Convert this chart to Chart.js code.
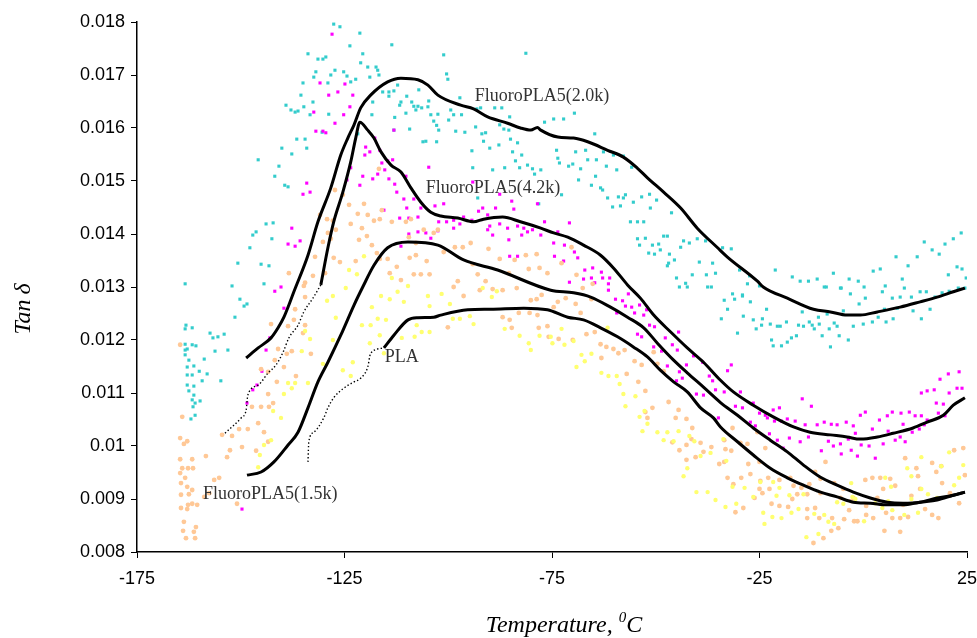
<!DOCTYPE html>
<html>
<head>
<meta charset="utf-8">
<script src="https://cdn.jsdelivr.net/npm/chart.js@4.4.1/dist/chart.umd.min.js"></script>
<style>
  html, body { margin: 0; padding: 0; background: #fff; }
  canvas { display: block; }
</style>
</head>
<body>
<canvas id="tanChart" width="977" height="638"></canvas>
<script>
// ======================================================
// DATA — tan delta vs temperature (°C)
// ======================================================
const xTicks = [-175, -125, -75, -25, 25];
const yRange = [0.008, 0.018];

// smoothed curves (solid black)
const temps20 = [-148.7,-145.8,-142.7,-141.0,-139.6,-138.4,-137.2,-133.8,-131.4,-128.3,-125.9,-124.2,-122.7,-121.1,-118.7,-114.6,-111.4,-107.3,-104.9,-102.5,-97.0,-93.9,-90.5,-85.7,-82.6,-80.1,-78.5,-77.7,-73.6,-69.8,-66.4,-61.6,-57.8,-54.4,-52.0,-48.1,-44.0,-40.0,-35.1,-32.8,-25.5,-24.1,-18.3,-12.0,-7.9,-3.9,-0.7,3.4,8.9,13.7,17.8,21.7,24.5];
const tan20   = [0.01166,0.01185,0.01204,0.01223,0.01243,0.01266,0.01291,0.01360,0.01423,0.01487,0.01549,0.01581,0.01606,0.01638,0.01662,0.01687,0.01694,0.01691,0.01681,0.01662,0.01643,0.01636,0.01621,0.01609,0.01600,0.01596,0.01601,0.01596,0.01583,0.01581,0.01574,0.01558,0.01545,0.01524,0.01506,0.01479,0.01449,0.01411,0.01374,0.01357,0.01311,0.01300,0.01279,0.01258,0.01253,0.01247,0.01247,0.01253,0.01262,0.01272,0.01281,0.01291,0.01298];

const temps42 = [-130.7,-129.0,-127.6,-125.4,-123.5,-122.3,-121.3,-119.4,-117.9,-116.2,-113.8,-111.4,-109.0,-106.6,-104.2,-101.8,-97.7,-93.9,-91.5,-86.9,-82.6,-77.7,-74.6,-71.2,-67.4,-63.3,-60.2,-56.8,-53.7,-50.5,-46.4,-42.4,-38.5,-34.4,-31.3,-26.5,-21.7,-16.8,-12.8,-7.9,-3.9,-0.7,3.4,7.2,12.0,15.4,19.3,21.7,24.5];
const tan42   = [0.01304,0.01374,0.01423,0.01479,0.01536,0.01581,0.01611,0.01596,0.01581,0.01555,0.01530,0.01517,0.01487,0.01460,0.01441,0.01434,0.01430,0.01423,0.01428,0.01432,0.01423,0.01411,0.01402,0.01394,0.01379,0.01360,0.01336,0.01304,0.01279,0.01247,0.01215,0.01185,0.01158,0.01124,0.01102,0.01077,0.01055,0.01036,0.01026,0.01021,0.01017,0.01013,0.01017,0.01024,0.01034,0.01045,0.01058,0.01077,0.01091];

const temps15 = [-148.5,-145.1,-142.0,-138.6,-136.2,-133.8,-131.4,-129.0,-125.9,-122.7,-120.6,-117.9,-114.6,-109.7,-102.5,-96.3,-88.1,-75.3,-69.8,-65.7,-60.9,-56.8,-52.9,-49.6,-45.7,-42.4,-38.5,-34.4,-30.3,-26.5,-22.4,-18.3,-14.4,-10.3,-6.3,-2.4,1.7,5.8,9.6,13.7,17.8,21.7,24.5];
const tan15   = [0.00945,0.00951,0.00970,0.01002,0.01026,0.01072,0.01121,0.01158,0.01209,0.01266,0.01300,0.01341,0.01374,0.01385,0.01379,0.01351,0.01332,0.01294,0.01289,0.01281,0.01262,0.01243,0.01223,0.01194,0.01162,0.01138,0.01111,0.01082,0.01058,0.01034,0.01011,0.00989,0.00964,0.00941,0.00926,0.00913,0.00902,0.00894,0.00892,0.00894,0.00902,0.00907,0.00913];

const tempsPLA = [-115.5,-113.1,-109.7,-107.3,-103.5,-101.8,-95.3,-89.8,-81.8,-76.1,-71.2,-67.4,-63.3,-59.2,-55.4,-52.0,-48.9,-45.7,-42.4,-39.2,-36.1,-34.4,-30.3,-26.5,-22.4,-18.3,-14.4,-10.3,-6.3,-2.4,1.7,5.8,9.6,13.7,17.8,21.7,24.5];
const tanPLA   = [0.01185,0.01209,0.01238,0.01242,0.01243,0.01247,0.01257,0.01258,0.01260,0.01257,0.01243,0.01238,0.01223,0.01206,0.01187,0.01168,0.01143,0.01121,0.01102,0.01072,0.01053,0.01036,0.01008,0.00983,0.00958,0.00940,0.00926,0.00913,0.00904,0.00894,0.00892,0.00889,0.00889,0.00894,0.00898,0.00907,0.00913];

// dotted extensions
const tempsDot42 = [-153.8,-149.9,-148.7,-148.3,-145.8,-143.4,-141.5,-139.8,-138.4,-136.2,-134.8,-132.6,-130.7];
const tanDot42   = [0.01024,0.01053,0.01068,0.01096,0.01115,0.01138,0.01153,0.01177,0.01204,0.01228,0.01253,0.01279,0.01304];
const tempsDotPLA = [-133.8,-133.6,-132.4,-130.0,-129.0,-127.6,-125.2,-122.7,-121.1,-119.4,-118.7,-115.5];
const tanDotPLA   = [0.00970,0.01008,0.01026,0.01053,0.01072,0.01091,0.01109,0.01121,0.01128,0.01149,0.01175,0.01185];

// raw measured points [temperature, tan delta]
const cyanDots = [
  [-127.6,.01796],[-126.1,.01791],[-121.3,.01779],[-113.6,.01757],[-123.7,.01755],[-133.8,.01740],[-120.6,.01740],[-131.4,.01730],[-130.2,.01730],[-129.5,.01734],
  [-121.1,.01723],[-119.4,.01715],[-117.4,.01715],[-117.0,.01709],[-131.9,.01706],[-127.3,.01709],[-125.2,.01706],[-128.3,.01700],[-124.4,.01698],[-122.3,.01692],
  [-118.9,.01696],[-132.4,.01696],[-135.0,.01685],[-129.0,.01685],[-123.5,.01687],[-116.7,.01700],[-135.5,.01662],[-132.6,.01649],[-139.1,.01643],[-137.9,.01634],
  [-136.9,.01630],[-136.2,.01632],[-134.8,.01640],[-133.3,.01625],[-128.8,.01626],[-130.4,.01592],[-136.5,.01579],[-134.5,.01579],[-134.1,.01562],[-140.1,.01562],
  [-137.7,.01551],[-145.8,.01540],[-140.8,.01528],[-141.8,.01509],[-139.4,.01492],[-138.6,.01489],[-143.9,.01419],[-142.2,.01421],[-146.3,.01404],[-147.1,.01398],
  [-142.5,.01391],[-147.8,.01374],[-150.7,.01345],[-145.1,.01343],[-143.2,.01340],[-163.4,.01306],[-144.4,.01306],
  [-115.8,.01668],[-114.3,.01668],[-113.1,.01670],[-114.3,.01660],[-112.2,.01681],[-118.2,.01649],[-111.4,.01649],[-110.0,.01660],[-108.8,.01649],[-108.3,.01641],
  [-107.3,.01641],[-106.4,.01638],[-104.9,.01640],[-104.7,.01651],[-107.1,.01672],[-111.7,.01643],[-110.2,.01628],[-107.8,.01634],[-118.4,.01625],[-112.9,.01620],
  [-104.2,.01625],[-102.5,.01626],[-103.5,.01613],[-102.8,.01605],[-102.3,.01596],[-109.3,.01598],[-113.1,.01596],[-106.1,.01574],[-105.4,.01575],[-102.8,.01574],[-121.8,.01589],
  [-101.1,.01738],[-81.3,.01741],[-100.4,.01702],[-100.1,.01692],[-97.2,.01657],[-99.4,.01634],[-98.7,.01625],[-96.8,.01625],[-99.9,.01615],[-93.1,.01636],
  [-92.2,.01638],[-88.8,.01638],[-87.1,.01638],[-98.2,.01594],[-96.0,.01592],[-93.4,.01602],[-91.9,.01589],[-91.0,.01591],[-87.6,.01606],[-86.6,.01598],
  [-85.4,.01596],[-85.2,.01621],[-76.8,.01611],[-74.6,.01617],[-72.2,.01617],[-69.6,.01628],[-91.5,.01575],[-87.8,.01568],[-90.0,.01562],[-94.3,.01557],
  [-85.0,.01579],[-83.3,.01572],[-84.5,.01555],[-82.3,.01549],[-83.8,.01538],[-73.9,.01558],[-73.6,.01543],[-73.2,.01534],[-71.0,.01528],[-70.0,.01532],
  [-69.3,.01555],[-68.1,.01523],[-66.9,.01558],[-66.4,.01540],[-64.7,.01589],[-64.3,.01540],[-62.6,.01555],[-61.9,.01528],[-60.2,.01549],[-59.4,.01521],
  [-57.8,.01547],[-55.8,.01526],[-94.1,.01525],[-89.3,.01521],[-86.4,.01525],[-82.8,.01525],[-80.9,.01530],[-79.7,.01523],[-79.2,.01513],[-77.7,.01521],
  [-68.6,.01502],[-65.5,.01492],[-64.5,.01509],[-63.3,.01487],[-62.8,.01483],[-61.6,.01468],[-60.4,.01451],[-59.0,.01470],[-58.5,.01453],[-57.8,.01468],
  [-57.3,.01474],[-55.4,.01460],[-53.4,.01470],[-51.5,.01475],[-51.3,.01449],[-49.8,.01464],[-46.2,.01440],[-56.1,.01423],[-54.4,.01423],[-52.9,.01423],
  [-54.4,.01391],[-52.5,.01392],[-53.9,.01379],[-51.7,.01364],[-50.8,.01379],[-49.3,.01381],[-50.3,.01362],[-48.9,.01370],[-48.1,.01396],[-47.2,.01396],
  [-46.7,.01362],[-44.0,.01375],[-43.3,.01387],[-41.9,.01383],[-40.0,.01391],[-38.0,.01387],[-47.2,.01340],[-45.0,.01317],[-39.5,.01347],[-37.8,.01323],
  [-42.8,.01307],[-72.7,.01474],[-92.9,.01468],[-78.2,.01457],
  [-45.5,.01351],[-46.9,.01345],[-36.3,.01345],[-35.6,.01326],[-33.9,.01374],[-31.8,.01372],[-29.8,.01332],[-27.4,.01321],[-27.9,.01306],[-25.0,.01302],
  [-21.2,.01332],[-17.1,.01319],[-15.2,.01311],[-13.2,.01311],[-11.1,.01315],[-9.4,.01300],[-7.2,.01326],[-5.3,.01298],[-3.4,.01315],[-1.2,.01311],
  [2.4,.01330],[4.1,.01334],[7.9,.01357],[9.4,.01315],[10.8,.01340],[13.0,.01357],[14.7,.01385],[16.6,.01370],[18.3,.01362],[19.7,.01381],
  [21.7,.01391],[23.6,.01402],[22.6,.01338],[23.8,.01334],[24.8,.01317],[20.5,.01323],[-44.3,.01300],[-42.4,.01300],[-41.2,.01323],[-37.5,.01300],
  [-36.6,.01300],[-31.5,.01287],[-29.1,.01285],
  [-33.5,.01275],[-32.7,.01258],[-34.2,.01240],[-31.0,.01277],[-29.1,.01283],[-27.2,.01272],[-28.9,.01245],[-26.5,.01238],[-24.3,.01240],[-25.8,.01221],
  [-30.3,.01213],[-24.5,.01228],[-23.3,.01258],[-22.4,.01230],[-20.7,.01226],[-20.0,.01226],[-22.1,.01200],[-21.7,.01189],[-19.7,.01189],[-18.5,.01234],
  [-18.3,.01196],[-17.3,.01204],[-16.1,.01208],[-15.6,.01228],[-14.4,.01226],[-13.0,.01234],[-12.3,.01228],[-11.8,.01221],[-10.6,.01230],[-9.9,.01208],
  [-8.2,.01221],[-7.9,.01187],[-7.0,.01232],[-6.3,.01226],[-5.8,.01208],[-4.8,.01255],[-3.6,.01200],[-2.4,.01226],[0.0,.01230],[2.2,.01234],
  [3.6,.01243],[5.1,.01258],[5.5,.01234],[7.2,.01240],[8.2,.01260],[12.0,.01255],[14.0,.01240],[16.1,.01258],[-14.7,.01253],[-10.8,.01243],
  [-8.7,.01249],[-1.0,.01268],[0.5,.01279],[4.6,.01291],[5.3,.01302],[7.0,.01279],[8.9,.01281],[9.9,.01298],[11.6,.01281],[13.7,.01291],
  [15.2,.01291],[17.3,.01281],[19.0,.01289],[20.7,.01292],[22.9,.01298],[24.5,.01298],[-8.9,.01300],[-5.5,.01298],[-3.1,.01287],[0.2,.01300],
  [-163.2,.01228],[-161.7,.01223],[-163.4,.01221],[-157.4,.01213],[-156.7,.01204],[-155.5,.01206],[-154.0,.01211],[-163.4,.01192],[-162.9,.01183],[-161.7,.01191],
  [-160.8,.01189],[-163.4,.01181],[-163.4,.01172],[-162.5,.01162],[-162.9,.01149],[-161.3,.01151],[-160.0,.01141],[-158.8,.01164],[-156.2,.01179],[-153.1,.01181],
  [-162.9,.01134],[-161.7,.01134],[-159.3,.01123],[-158.1,.01136],[-154.8,.01123],[-162.9,.01115],[-161.3,.01113],[-162.5,.01104],[-161.3,.01096],[-161.7,.01087],
  [-161.0,.01081],[-159.8,.01085],[-161.5,.01074],[-161.0,.01058],[-162.0,.01051],[-152.1,.01302],[-150.2,.01277],[-149.2,.01264],[-148.5,.01268],[-151.4,.01243]
];

const magentaDots = [
  [-128.0,.01777],[-130.9,.01685],[-124.9,.01683],[-128.8,.01662],[-126.6,.01668],[-123.0,.01662],[-123.7,.01640],[-125.2,.01625],[-132.4,.01630],[-127.3,.01609],
  [-131.9,.01594],[-130.2,.01594],[-129.5,.01591],[-113.1,.01596],[-119.9,.01564],[-120.1,.01549],[-118.9,.01555],[-117.7,.01581],[-116.5,.01558],[-116.0,.01534],
  [-114.6,.01538],[-113.4,.01540],[-115.3,.01521],[-117.0,.01513],[-118.2,.01504],[-120.6,.01509],[-123.5,.01525],[-124.4,.01502],[-121.3,.01492],[-114.3,.01504],
  [-112.9,.01494],[-112.4,.01479],[-110.2,.01509],[-110.7,.01466],[-108.3,.01466],[-110.0,.01449],[-115.5,.01445],[-111.7,.01430],[-109.5,.01430],[-107.3,.01432],
  [-106.6,.01449],[-104.7,.01526],[-103.2,.01453],[-102.3,.01423],[-109.5,.01400],[-107.3,.01404],[-105.4,.01402],[-104.2,.01392],[-102.5,.01406],[-134.1,.01496],
  [-133.3,.01479],[-135.0,.01475],[-137.7,.01411],[-138.6,.01381],[-136.9,.01377],[-135.7,.01387],[-111.4,.01377],[-141.8,.01292],[-140.3,.01300],[-139.6,.01260],
  [-143.0,.01204],[-143.9,.01181],[-144.9,.01141],[-146.1,.01115],[-147.1,.01106],[-148.5,.01081],[-149.7,.00881],
  [-101.1,.01457],[-94.1,.01498],[-87.6,.01475],[-84.7,.01462],[-78.5,.01457],[-91.7,.01449],[-88.6,.01449],[-84.2,.01447],[-92.7,.01443],[-90.5,.01436],
  [-98.7,.01426],[-96.3,.01432],[-100.4,.01423],[-98.7,.01411],[-97.2,.01419],[-94.3,.01426],[-90.0,.01415],[-87.6,.01419],[-90.5,.01408],[-89.3,.01398],
  [-85.7,.01411],[-83.3,.01415],[-81.8,.01411],[-80.9,.01404],[-79.7,.01408],[-76.8,.01423],[-70.8,.01421],[-77.7,.01398],[-73.6,.01404],[-82.3,.01398],
  [-85.4,.01389],[-74.6,.01383],[-72.0,.01379],[-83.3,.01358],[-85.2,.01358],[-74.4,.01358],[-69.6,.01366],[-68.8,.01355],[-72.2,.01349],[-67.1,.01332],
  [-65.2,.01336],[-63.1,.01328],[-62.8,.01317],[-65.5,.01317],[-67.4,.01315],[-61.1,.01317],[-61.4,.01306],[-64.7,.01308],[-70.8,.01309],
  [-61.4,.01294],[-59.7,.01277],[-58.0,.01274],[-56.6,.01287],[-57.3,.01264],[-55.8,.01262],[-55.1,.01251],[-53.9,.01266],[-52.9,.01247],[-52.2,.01257],
  [-59.4,.01251],[-51.5,.01228],[-50.3,.01225],[-54.4,.01211],[-53.4,.01206],[-47.7,.01204],[-50.5,.01187],[-48.6,.01179],[-46.0,.01191],[-44.5,.01215],
  [-44.8,.01181],[-47.2,.01151],[-42.6,.01153],[-40.9,.01170],[-38.7,.01158],[-37.1,.01132],[-36.3,.01123],[-44.3,.01140],[-43.6,.01128],[-45.0,.01123],
  [-40.2,.01098],[-38.5,.01096],[-35.6,.01106],[-34.9,.01053],
  [-31.8,.01153],[-32.7,.01142],[-33.5,.01102],[-29.6,.01102],[-30.8,.01075],[-29.1,.01072],[-26.5,.01081],[-25.0,.01062],[-23.6,.01058],[-21.7,.01068],
  [-20.2,.01072],[-27.2,.01045],[-26.0,.01038],[-23.1,.01053],[-21.4,.01047],[-19.7,.01047],[-18.3,.01051],[-16.4,.01047],[-14.7,.01089],[-12.5,.01075],
  [-14.0,.01040],[-11.1,.01040],[-9.4,.01045],[-7.7,.01041],[-6.3,.01040],[-4.1,.01045],[-2.4,.01038],[-0.7,.01058],[0.5,.01064],[2.2,.01032],
  [3.9,.01049],[5.8,.01057],[7.0,.01064],[9.1,.01062],[9.6,.01041],[11.1,.01064],[12.5,.01057],[14.0,.01057],[15.4,.01049],[18.1,.01062],
  [14.0,.01100],[15.4,.01104],[17.1,.01106],[17.6,.01081],[19.3,.01079],[18.5,.01126],[20.5,.01136],[23.1,.01140],[20.7,.01100],[22.6,.01109],
  [23.8,.01109],[19.7,.01057],[-22.6,.01023],[-20.7,.01011],[-19.3,.00996],[-17.8,.01015],[-15.2,.01008],[-13.2,.01017],[-10.1,.00991],[-8.4,.01009],
  [-7.2,.01000],[-5.5,.01004],[-5.3,.00985],[-3.6,.01013],[-2.9,.00992],[-1.9,.01024],[-1.4,.00981],[-0.5,.01002],[1.4,.01000],[2.9,.00977],
  [4.8,.01004],[6.0,.01028],[7.7,.01011],[8.9,.01017],[10.1,.01008],[11.8,.01026],[13.5,.01032],[14.7,.01040]
];

const orangeDots = [
  [-164.6,.01191],[-164.1,.01055],[-164.6,.01015],[-162.9,.01009],[-163.7,.01004],[-164.6,.00975],[-161.7,.00975],[-164.1,.00958],[-162.7,.00958],[-161.5,.00958],
  [-164.6,.00949],[-163.4,.00940],[-164.4,.00930],[-162.9,.00923],[-161.7,.00917],[-164.4,.00908],[-162.5,.00909],[-164.4,.00883],[-162.7,.00889],[-161.7,.00891],
  [-160.5,.00889],[-162.9,.00881],[-163.7,.00857],[-163.9,.00840],[-160.8,.00847],[-161.3,.00838],[-163.2,.00826],[-161.0,.00826],[-158.4,.00981],[-156.4,.00936],
  [-155.2,.00940],[-158.8,.00904],[-157.6,.00911],[-150.9,.00891],
  [-154.5,.01021],[-152.1,.01019],[-150.4,.01032],[-148.3,.01032],[-145.8,.01043],[-149.7,.00998],[-152.6,.00992],[-153.3,.00979],[-147.3,.01074],[-145.1,.01074],
  [-143.2,.01074],[-142.2,.01081],[-143.4,.01098],[-145.1,.01145],[-143.4,.01140],[-141.3,.01121],[-141.0,.01183],[-141.8,.01162],[-139.6,.01149],[-138.9,.01174],
  [-137.7,.01179],[-136.7,.01132],[-142.7,.01230],[-138.6,.01226],[-137.2,.01238],[-134.5,.01228],[-135.0,.01213],[-136.9,.01258],[-134.5,.01281],[-134.8,.01302],
  [-144.4,.01026],[-146.3,.00991],[-143.4,.01008],[-133.1,.01174],
  [-125.4,.01474],[-127.3,.01483],[-123.9,.01455],[-120.3,.01457],[-121.8,.01438],[-119.4,.01436],[-117.9,.01425],[-116.5,.01428],[-120.8,.01411],[-123.5,.01419],
  [-129.2,.01428],[-127.8,.01425],[-127.1,.01408],[-130.9,.01436],[-116.7,.01523],[-116.0,.01445],[-113.6,.01423],[-110.2,.01423],[-109.0,.01428],[-105.9,.01408],
  [-103.5,.01402],[-119.6,.01396],[-121.5,.01389],[-118.4,.01379],[-117.2,.01364],[-130.2,.01385],[-129.0,.01402],[-128.3,.01391],[-132.1,.01357],[-127.6,.01355],
  [-126.1,.01347],[-122.3,.01349],[-116.5,.01353],[-114.6,.01353],[-112.4,.01338],[-109.3,.01355],[-107.8,.01360],[-105.2,.01349],[-114.1,.01326],[-111.4,.01313],
  [-108.3,.01324],[-106.6,.01324],[-104.5,.01324],[-138.4,.01326],[-132.6,.01321],[-129.7,.01326],[-134.5,.01308],[-109.5,.01394],[-107.8,.01383],[-102.5,.01408],
  [-101.1,.01366],[-98.4,.01375],[-96.5,.01375],[-94.6,.01383],[-90.3,.01372],[-87.6,.01353],[-84.0,.01351],[-81.3,.01360],[-78.7,.01362],[-72.7,.01345],
  [-70.3,.01375],[-94.1,.01343],[-92.9,.01324],[-97.7,.01311],[-91.0,.01311],[-85.4,.01326],[-80.6,.01334],[-78.0,.01336],[-76.1,.01326],[-69.1,.01323],[-65.2,.01306],
  [-98.7,.01300],[-96.3,.01283],[-92.4,.01294],[-89.3,.01296],[-86.9,.01294],[-83.5,.01298],[-80.1,.01275],[-78.7,.01277],[-77.5,.01285],[-74.6,.01262],
  [-73.6,.01272],[-71.7,.01279],[-69.3,.01268],[-67.6,.01298],[-65.5,.01277],[-100.1,.01224],[-86.9,.01243],[-85.2,.01238],[-84.7,.01223],[-83.0,.01251],
  [-80.4,.01251],[-78.5,.01247],[-78.2,.01223],[-76.1,.01226],[-75.8,.01206],[-73.4,.01202],[-70.0,.01200],[-68.1,.01251],[-66.7,.01211],[-64.7,.01215],
  [-63.3,.01192],[-63.1,.01166],[-61.9,.01187],[-60.2,.01183],[-59.0,.01175],[-57.5,.01181],[-55.1,.01160],[-53.4,.01153],[-57.0,.01136],[-54.2,.01121],
  [-52.5,.01104],[-46.9,.01083],[-44.5,.01068],[-42.6,.01051],[-50.5,.01177],[-49.6,.01155],[-48.1,.01141],[-52.5,.01064],[-52.0,.01053],[-50.8,.01072],
  [-45.2,.01053],[-42.6,.01002],[-41.4,.01013],[-44.3,.00992],[-46.0,.01007],[-41.2,.01034],[-39.2,.01006],[-38.5,.00989],[-36.6,.00998],[-42.6,.00974],
  [-40.4,.00979],[-34.7,.00966],
  [-31.5,.01034],[-33.5,.01011],[-33.2,.00994],[-31.8,.00991],[-33.5,.00970],[-29.6,.01006],[-27.9,.01004],[-25.5,.01026],[-23.6,.00996],[-25.0,.00970],
  [-27.7,.00966],[-32.7,.00940],[-31.3,.00928],[-29.4,.00940],[-27.2,.00947],[-24.8,.00934],[-22.9,.00940],[-25.0,.00919],[-26.2,.00902],[-24.3,.00911],
  [-22.6,.00919],[-20.2,.00936],[-17.6,.00940],[-16.8,.00925],[-14.9,.00921],[-13.0,.00928],[-15.9,.00909],[-13.5,.00909],[-17.1,.00900],[-18.1,.00885],
  [-13.5,.00881],[-11.6,.00883],[-20.2,.00887],[-22.1,.00891],[-30.8,.00875],[-28.9,.00883],[-13.5,.00864],[-10.6,.00864],[-7.5,.00864],[-4.6,.00862],
  [-3.4,.00879],[-2.2,.00858],[0.7,.00870],[2.4,.00864],[5.5,.00874],[7.0,.00864],[8.9,.00864],[10.8,.00866],[14.9,.00881],[16.6,.00870],
  [18.1,.00864],[-12.0,.00817],[-9.6,.00826],[-7.7,.00840],[-6.0,.00845],[-1.4,.00858],[5.1,.00840],[8.9,.00838],[-9.1,.00970],[-11.6,.00951],
  [-10.3,.00938],[-7.0,.00930],[-4.8,.00919],[-10.3,.00911],[-5.5,.00902],[-2.4,.00902],[0.5,.00936],[2.2,.00940],[4.1,.00940],[4.8,.00919],
  [6.5,.00938],[7.7,.00925],[10.1,.00977],[12.8,.00958],[13.2,.00943],[16.6,.00968],[17.6,.00951],[18.8,.00962],[19.0,.00930],[21.9,.00992],
  [24.1,.00996],[24.5,.00945],[20.9,.00911],[23.1,.00892],[13.7,.00919],[11.6,.00906],[9.6,.00889],[3.4,.00902],[0.7,.00887],[-2.9,.00896]
];

const yellowDots = [
  [-124.7,.01298],[-127.8,.01283],[-129.2,.01274],[-127.1,.01242],[-120.8,.01228],[-118.7,.01228],[-118.4,.01262],[-116.2,.01283],[-114.1,.01277],[-110.7,.01272],
  [-112.2,.01291],[-109.7,.01302],[-104.9,.01283],[-104.5,.01264],[-107.6,.01228],[-108.1,.01206],[-106.4,.01215],[-104.5,.01215],[-111.2,.01204],[-117.0,.01240],
  [-115.0,.01238],[-116.5,.01209],[-118.9,.01194],[-115.5,.01175],[-125.4,.01143],[-123.0,.01158],[-123.5,.01132],[-130.2,.01155],[-134.5,.01217],[-133.3,.01202],
  [-135.3,.01179],[-133.8,.01119],[-138.6,.01119],[-136.9,.01119],[-137.7,.01109],[-139.6,.01098],[-142.2,.01066],[-140.3,.01053],[-142.7,.01011],[-144.4,.01002],
  [-145.4,.00983],[-145.8,.00960],[-127.8,.01200],[-120.3,.01358],[-123.9,.01332],[-122.0,.01324],[-113.6,.01317],
  [-101.6,.01287],[-99.6,.01268],[-98.9,.01240],[-97.2,.01240],[-94.8,.01245],[-93.9,.01230],[-91.7,.01298],[-89.5,.01281],[-88.3,.01292],[-86.4,.01221],
  [-82.8,.01208],[-80.6,.01194],[-80.1,.01181],[-78.0,.01208],[-75.3,.01206],[-74.9,.01194],[-72.7,.01221],[-72.0,.01191],[-69.8,.01198],[-69.1,.01149],
  [-67.9,.01172],[-67.1,.01160],[-65.5,.01174],[-63.1,.01138],[-61.4,.01132],[-59.4,.01132],[-58.7,.01117],[-57.8,.01098],[-57.3,.01075],[-54.9,.01094],
  [-53.9,.01055],[-52.7,.01066],[-52.0,.01042],[-53.2,.01028],[-49.6,.01026],[-48.1,.01011],[-47.2,.01026],[-45.7,.01009],[-44.5,.01028],[-41.9,.01019],
  [-40.7,.01009],[-39.2,.00981],[-36.8,.00987],[-42.4,.00958],[-43.3,.00943],[-40.2,.00913],[-37.5,.00913],[-35.6,.00898],[-61.6,.01223],
  [-33.7,.01013],[-33.0,.00972],[-31.5,.00923],[-30.6,.00891],[-28.6,.00921],[-33.2,.00885],[-26.5,.00904],[-24.8,.00932],[-24.1,.00874],[-23.8,.00853],
  [-21.9,.00866],[-20.9,.00906],[-19.7,.00864],[-17.3,.00874],[-15.6,.00881],[-14.4,.00909],[-13.7,.00828],[-10.8,.00834],[-11.8,.00872],[-9.4,.00870],
  [-8.4,.00857],[-7.0,.00853],[-6.3,.00894],[-4.8,.00891],[-2.9,.00930],[-1.9,.00900],[0.2,.00858],[2.9,.00892],[4.6,.00883],[5.3,.00940],
  [6.0,.00896],[7.0,.00879],[9.9,.00870],[11.6,.00900],[13.2,.00874],[14.0,.00979],[14.0,.00919],[15.6,.00909],[17.8,.00902],[18.8,.00962],
  [20.7,.00988],[21.9,.00926],[23.1,.00940],[24.1,.00964],[10.6,.00958],[11.6,.00943],[6.7,.00923],[-2.6,.00904],[-21.7,.00932],[-20.2,.00921],[-17.8,.00907]
];

// text labels placed next to the curves [temperature, tan delta]
const curveLabels = [
  { text: "FluoroPLA5(2.0k)", at: [-93.6, 0.01660] },
  { text: "FluoroPLA5(4.2k)", at: [-105.4, 0.01487] },
  { text: "PLA",              at: [-115.3, 0.01168] },
  { text: "FluoroPLA5(1.5k)", at: [-159.1, 0.00908] }
];


// ======================================================
// HELPERS
// ======================================================
const toXY = (xs, ys) => xs.map((x, i) => ({ x, y: ys[i] }));
const toPts = arr => arr.map(([x, y]) => ({ x, y }));

function dotSet(data, color, style, r, order) {
  return {
    data: toPts(data),
    showLine: false,
    pointStyle: style,
    pointRadius: r,
    pointBackgroundColor: color,
    pointBorderWidth: 0,
    order
  };
}

function curveSet(xs, ys, dotted) {
  return {
    data: toXY(xs, ys),
    showLine: true,
    borderColor: "#000",
    borderWidth: dotted ? 1.4 : 3,
    borderDash: dotted ? [1.4, 2.2] : [],
    pointRadius: 0,
    cubicInterpolationMode: "monotone",
    order: 0
  };
}


// ======================================================
// TITLES + CURVE LABELS (drawn on top of the canvas)
// ======================================================
const textPlugin = {
  id: "textPlugin",
  afterDraw(chart) {
    const { ctx, scales: { x, y } } = chart;
    ctx.save();

    // curve labels
    ctx.font = '18px "Liberation Serif"';
    ctx.fillStyle = "#333";
    ctx.textAlign = "left";
    ctx.textBaseline = "middle";
    curveLabels.forEach(l => {
      ctx.fillText(l.text, x.getPixelForValue(l.at[0]), y.getPixelForValue(l.at[1]));
    });

    // x title: Temperature, ⁰C
    ctx.fillStyle = "#000";
    ctx.textBaseline = "alphabetic";
    const big = 'italic 24px "Liberation Serif"';
    const small = 'italic 15px "Liberation Serif"';
    const part1 = "Temperature, ";
    ctx.font = big;
    const w1 = ctx.measureText(part1).width;
    const wC = ctx.measureText("C").width;
    ctx.font = small;
    const w0 = ctx.measureText("0").width;
    const total = w1 + w0 + wC;
    const cx = (x.left + x.right) / 2 + 12;
    let px = cx - total / 2;
    const base = 632;
    ctx.font = big;
    ctx.fillText(part1, px, base);
    px += w1;
    ctx.font = small;
    ctx.fillText("0", px, base - 10);
    px += w0;
    ctx.font = big;
    ctx.fillText("C", px, base);

    // y title: Tan δ
    ctx.translate(30, (y.top + y.bottom) / 2 + 22);
    ctx.rotate(-Math.PI / 2);
    ctx.textAlign = "center";
    ctx.font = 'italic 24px "Liberation Serif"';
    ctx.fillText("Tan\u2009\u03b4", 0, 0);

    ctx.restore();
  }
};


// ======================================================
// CHART
// ======================================================
const canvas = document.getElementById("tanChart");

new Chart(canvas, {
  type: "scatter",
  data: {
    datasets: [
      curveSet(temps20, tan20, false),
      curveSet(temps42, tan42, false),
      curveSet(temps15, tan15, false),
      curveSet(tempsPLA, tanPLA, false),
      curveSet(tempsDot42, tanDot42, true),
      curveSet(tempsDotPLA, tanDotPLA, true),
      dotSet(yellowDots, "#FFFF70", "circle", 2.2, 1),
      dotSet(orangeDots, "#FFC896", "circle", 2.4, 2),
      dotSet(magentaDots, "#FF00FF", "rect", 2.2, 3),
      dotSet(cyanDots, "#33CCCC", "rect", 2.2, 4)
    ]
  },
  options: {
    responsive: false,
    animation: false,
    layout: { padding: { top: 22, right: 10, left: 0, bottom: 0 } },
    plugins: {
      legend: { display: false },
      tooltip: { enabled: false }
    },
    scales: {
      x: {
        type: "linear",
        min: xTicks[0],
        max: xTicks[xTicks.length - 1],
        afterBuildTicks: s => { s.ticks = xTicks.map(v => ({ value: v })); },
        afterFit: s => { s.height = 86; s.paddingRight = 0; s.paddingLeft = 0; },
        ticks: {
          color: "#000",
          font: { family: "Liberation Sans", size: 18 },
          padding: 10,
          callback: v => String(v)
        },
        grid: { display: true, drawOnChartArea: false, drawTicks: true, tickLength: 6, color: "#000", lineWidth: 1 },
        border: { color: "#000", width: 1.5 }
      },
      y: {
        min: yRange[0],
        max: yRange[1],
        afterFit: s => { s.width = 137; },
        ticks: {
          stepSize: 0.001,
          color: "#000",
          font: { family: "Liberation Sans", size: 18 },
          padding: 6,
          callback: v => String(+v.toFixed(3))
        },
        grid: { display: true, drawOnChartArea: false, drawTicks: true, tickLength: 6, color: "#000", lineWidth: 1 },
        border: { color: "#000", width: 1.5 }
      }
    }
  },
  plugins: [textPlugin]
});
</script>
</body>
</html>
